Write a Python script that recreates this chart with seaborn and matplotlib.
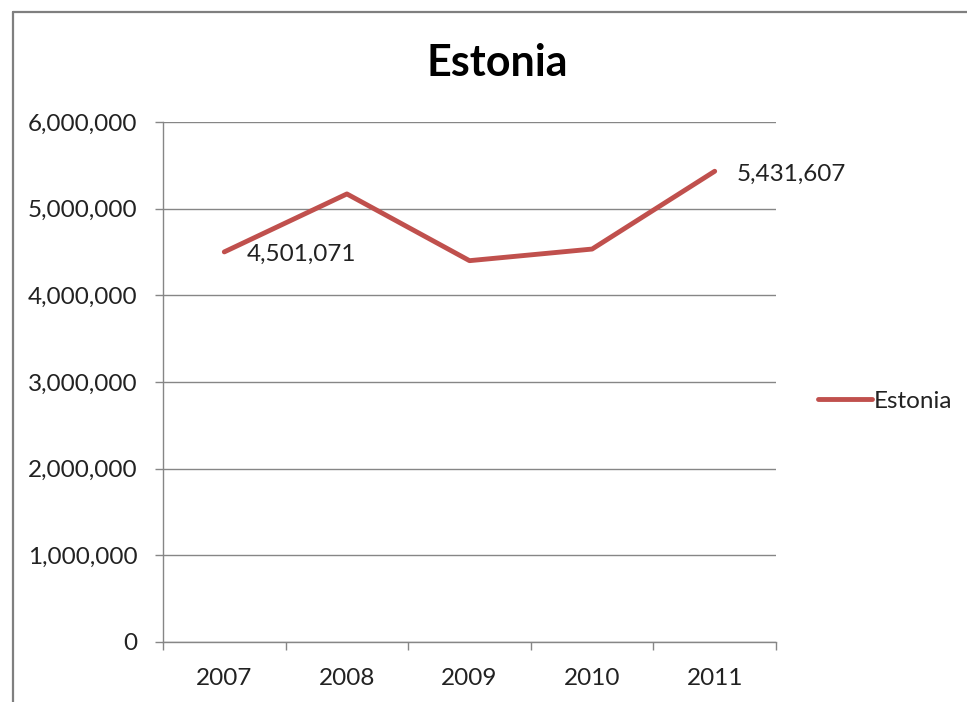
import matplotlib
matplotlib.use("Agg")
import matplotlib.pyplot as plt
from matplotlib.lines import Line2D
from matplotlib.ticker import FuncFormatter, FixedLocator
import seaborn as sns
import pandas as pd

years = ["2007", "2008", "2009", "2010", "2011"]
values = [4501071, 5170000, 4400000, 4534000, 5431607]
series_name = "Estonia"
labelled = {0: "4,501,071", 4: "5,431,607"}

sns.set_theme(style="white")
plt.rcParams["font.family"] = ["Lato", "DejaVu Sans"]

df = pd.DataFrame({"pos": range(len(years)), "value": values, "series": series_name})

fig = plt.figure(figsize=(9.67, 7.02), dpi=100)
ax = fig.add_axes([163 / 967, 1 - 642 / 702, 613 / 967, 520 / 702])

line_color = "#C0504D"
grid_color = "#868686"
text_color = "#222222"
fs = 17.5
lw = 3.5

sns.lineplot(data=df, x="pos", y="value", color=line_color, linewidth=lw,
             ax=ax, legend=False, solid_capstyle="round")

ax.set_xlim(-0.5, len(years) - 0.5)
ax.set_ylim(0, 6000000)

# y axis: gridlines every million with thousands separators
ax.yaxis.set_major_locator(FixedLocator([i * 1000000 for i in range(7)]))
ax.yaxis.set_major_formatter(FuncFormatter(lambda v, _: f"{int(v):,}"))
ax.grid(axis="y", color=grid_color, linewidth=1)
ax.set_axisbelow(True)

# x axis: ticks between categories, labels centred on categories
ax.xaxis.set_major_locator(FixedLocator([i - 0.5 for i in range(len(years) + 1)]))
ax.xaxis.set_minor_locator(FixedLocator(list(range(len(years)))))
ax.set_xticklabels([], minor=False)
ax.set_xticklabels(years, minor=True)
ax.tick_params(axis="x", which="major", length=6, width=1, color=grid_color, direction="out")
ax.tick_params(axis="x", which="minor", length=0, pad=19, labelsize=fs, labelcolor=text_color)
ax.tick_params(axis="y", length=6, width=1, color=grid_color, direction="out", pad=12.5,
               labelsize=fs, labelcolor=text_color)
ax.tick_params(bottom=True, left=True)

ax.set_xlabel("")
ax.set_ylabel("")
for side in ["top", "right"]:
    ax.spines[side].set_visible(False)
for side in ["left", "bottom"]:
    ax.spines[side].set_color(grid_color)
    ax.spines[side].set_linewidth(1)

# value labels
for i, txt in labelled.items():
    ax.annotate(txt, (i, values[i]), xytext=(16, -2), textcoords="offset points",
                ha="left", va="center", fontsize=fs, color=text_color)

fig.text(497 / 967, 1 - 63 / 702, series_name, ha="center", va="center",
         fontsize=31, fontweight="bold", color="black")

# legend
handle = Line2D([], [], color=line_color, linewidth=lw, solid_capstyle="round")
fig.legend([handle], [series_name], loc="center left",
           bbox_to_anchor=(806 / 967, 1 - 401 / 702), frameon=False,
           handlelength=2.2, handletextpad=0.1, borderpad=0, fontsize=fs,
           labelcolor=text_color)

# chart area border
fig.add_artist(Line2D([13 / 967, 13 / 967], [0, 1 - 12 / 702], transform=fig.transFigure,
                      color="#7f7f7f", linewidth=1.6))
fig.add_artist(Line2D([13 / 967, 1], [1 - 12 / 702, 1 - 12 / 702], transform=fig.transFigure,
                      color="#7f7f7f", linewidth=1.6))

fig.savefig("out.png", dpi=100)
